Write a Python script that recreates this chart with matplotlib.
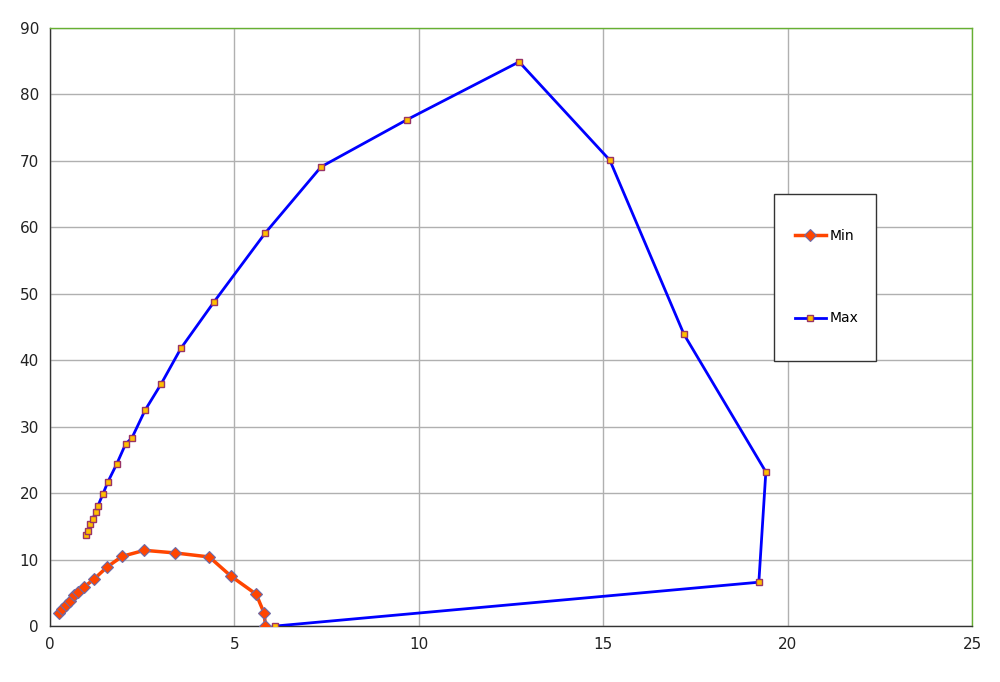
import numpy as np
import matplotlib.pyplot as plt
from matplotlib.patches import Rectangle

# Min curve
min_x = [0.24, 0.33, 0.43, 0.54, 0.66, 0.77, 0.93, 1.20, 1.55, 1.96, 2.56, 3.40, 4.32, 4.91, 5.59, 5.81, 5.84]
min_y = [2.0, 2.6, 3.2, 3.8, 4.7, 5.1, 5.9, 7.1, 8.9, 10.5, 11.4, 11.0, 10.4, 7.5, 4.8, 1.9, 0.0]

# Max curve
max_x = [0.97, 1.02, 1.08, 1.16, 1.24, 1.30, 1.43, 1.57, 1.81, 2.05, 2.22, 2.58, 3.01, 3.55,
         4.45, 5.83, 7.35, 9.68, 12.72, 15.18, 17.19, 19.41, 19.22, 6.10]
max_y = [13.7, 14.3, 15.4, 16.1, 17.2, 18.1, 19.8, 21.7, 24.4, 27.4, 28.3, 32.5, 36.4, 41.8,
         48.8, 59.1, 69.1, 76.2, 84.9, 70.1, 43.9, 23.2, 6.6, 0.0]

fig = plt.figure(figsize=(10, 6.82), dpi=100)
ax = fig.add_axes([0.05, 0.082, 0.922, 0.877])

ax.plot(max_x, max_y, "-s", color="#0000ff", lw=2, ms=4.5,
        mfc="#ffc000", mec="#993366", mew=1, label="Max", zorder=3)
ax.plot(min_x, min_y, "-D", color="#ff4500", lw=2.5, ms=6,
        mfc="#ff4500", mec="#6b6baa", mew=0.8, label="Min", zorder=4)

ax.set_xlim(0, 25)
ax.set_ylim(0, 90)
ax.set_xticks(np.arange(0, 26, 5))
ax.set_yticks(np.arange(0, 91, 10))
ax.grid(True, color="#b0b0b0", lw=1)
ax.set_axisbelow(True)
ax.tick_params(length=0, labelsize=11, pad=8, colors="#222222")

for s in ["top", "right"]:
    ax.spines[s].set_color("#66b032")
for s in ["left", "bottom"]:
    ax.spines[s].set_color("#333333")
for s in ax.spines.values():
    s.set_linewidth(1)

# legend box drawn separately so it can be tall and narrow like the original
ax.add_patch(Rectangle((0.785, 0.443), 0.1106, 0.279, transform=ax.transAxes,
                       facecolor="white", edgecolor="#333333", lw=1, zorder=5))
h, l = ax.get_legend_handles_labels()
leg = ax.legend(h[::-1], l[::-1], loc="center", bbox_to_anchor=(0.842, 0.583),
                frameon=False, fontsize=10, labelspacing=4.9, handlelength=2.3,
                handletextpad=0.2, borderpad=0, borderaxespad=0)
leg.set_zorder(6)

fig.savefig("out.png", dpi=100)
